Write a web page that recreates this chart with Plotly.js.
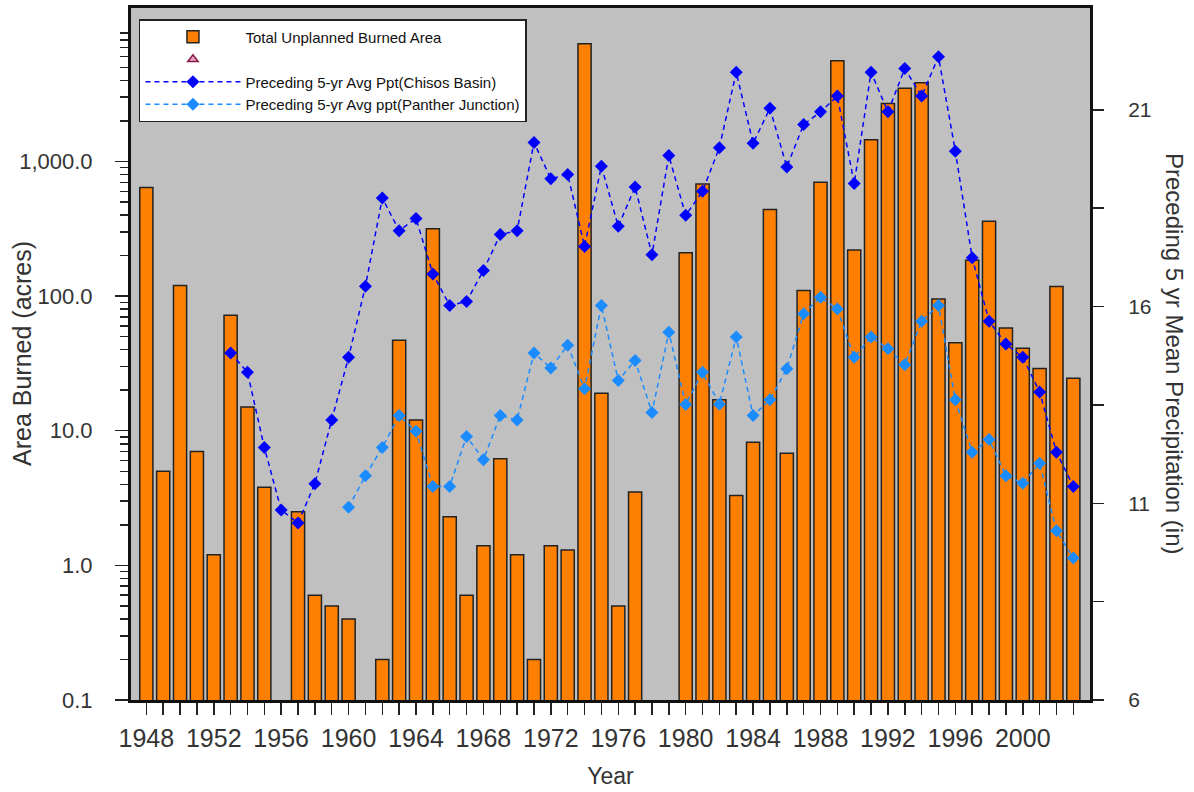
<!DOCTYPE html>
<html>
<head>
<meta charset="utf-8">
<script src="https://cdn.plot.ly/plotly-3.0.1.min.js"></script>
<style>
  html, body { margin: 0; padding: 0; background: #fff; }
  #chart { width: 1194px; height: 792px; }
</style>
</head>
<body>
<div id="chart"></div>
<script>
// years shown on the x axis
const years = [
  1948, 1949, 1950, 1951, 1952, 1953, 1954, 1955, 1956, 1957,
  1958, 1959, 1960, 1961, 1962, 1963, 1964, 1965, 1966, 1967,
  1968, 1969, 1970, 1971, 1972, 1973, 1974, 1975, 1976, 1977,
  1978, 1979, 1980, 1981, 1982, 1983, 1984, 1985, 1986, 1987,
  1988, 1989, 1990, 1991, 1992, 1993, 1994, 1995, 1996, 1997,
  1998, 1999, 2000, 2001, 2002, 2003
];

// total unplanned burned area (acres), null = no fire
const burnedArea = [
  640, 5.0, 120, 7.0, 1.2, 72, 15, 3.8, null, 2.5,
  0.6, 0.5, 0.4, null, 0.2, 47, 12, 316, 2.3, 0.6,
  1.4, 6.2, 1.2, 0.2, 1.4, 1.3, 7500, 19, 0.5, 3.5,
  null, null, 210, 680, 17, 3.3, 8.2, 440, 6.8, 110,
  700, 5600, 220, 1450, 2700, 3500, 3850, 95, 45, 185,
  360, 58, 41, 29, 118, 24.5
];

// preceding 5-yr average precipitation (in), Chisos Basin
const pptChisos = [
  null, null, null, null, null, 14.82, 14.33, 12.42, 10.83, 10.50,
  11.50, 13.12, 14.71, 16.52, 18.76, 17.93, 18.24, 16.83, 16.03, 16.13,
  16.92, 17.83, 17.93, 20.17, 19.25, 19.36, 17.53, 19.57, 18.04, 19.04,
  17.32, 19.84, 18.32, 18.93, 20.04, 21.96, 20.15, 21.04, 19.55, 20.63,
  20.95, 21.35, 19.13, 21.96, 20.95, 22.05, 21.35, 22.35, 19.95, 17.24,
  15.63, 15.05, 14.71, 13.83, 12.30, 11.43
];

// preceding 5-yr average precipitation (in), Panther Junction
const pptPanther = [
  null, null, null, null, null, null, null, null, null, null,
  null, null, 10.90, 11.70, 12.42, 13.23, 12.83, 11.43, 11.43, 12.70,
  12.11, 13.23, 13.12, 14.82, 14.44, 15.02, 13.91, 16.03, 14.12, 14.63,
  13.31, 15.35, 13.51, 14.33, 13.52, 15.23, 13.23, 13.63, 14.42, 15.82,
  16.24, 15.94, 14.71, 15.23, 14.93, 14.52, 15.63, 16.03, 13.63, 12.30,
  12.62, 11.70, 11.51, 12.02, 10.30, 9.61
];

// the triangle series only appears in the legend: no points are plotted
const triangleValues = years.map(() => null);

const leftTickVals = [0.1, 1, 10, 100, 1000];
const leftTickText = ['0.1', '1.0', '10.0', '100.0', '1,000.0'];
const rightTickVals = [6, 11, 16, 21];
const rightMinorVals = [8.5, 13.5, 18.5];

// minor log ticks 2..9 in each decade
const leftMinorVals = [];
for (let d = -1; d <= 4; d++) {
  for (let m = 2; m <= 9; m++) leftMinorVals.push(m * Math.pow(10, d));
}

const FONT = 'Arial, "Liberation Sans", sans-serif';
const TXT = '#333';

const traces = [
  {
    x: years, y: burnedArea,
    type: 'bar',
    name: 'Total Unplanned Burned Area',
    width: 0.78,
    marker: { color: '#ff8000', line: { color: '#222', width: 1.5 } },
  },
  {
    x: years, y: triangleValues,
    type: 'scatter', mode: 'markers',
    name: ' ',
    yaxis: 'y2',
    showlegend: true,
    marker: { symbol: 'triangle-up', size: 9, color: '#e8a6c4', line: { color: '#8a1a4a', width: 1.5 } },
  },
  {
    x: years, y: pptChisos,
    type: 'scatter', mode: 'lines+markers',
    name: 'Preceding 5-yr Avg Ppt(Chisos Basin)',
    yaxis: 'y2',
    line: { color: '#0000ff', width: 1.5, dash: '5px,4px' },
    marker: { symbol: 'diamond', size: 10, color: '#0000ff' },
  },
  {
    x: years, y: pptPanther,
    type: 'scatter', mode: 'lines+markers',
    name: 'Preceding 5-yr Avg ppt(Panther Junction)',
    yaxis: 'y2',
    line: { color: '#1a8cff', width: 1.5, dash: '5px,4px' },
    marker: { symbol: 'diamond', size: 10, color: '#1a8cff' },
  },
];

const layout = {
  width: 1194,
  height: 792,
  margin: { l: 131, r: 104, t: 8, b: 92 },
  paper_bgcolor: '#ffffff',
  plot_bgcolor: '#c0c0c0',
  font: { family: FONT, color: TXT },
  showlegend: true,
  legend: {
    x: 0.0083, y: 0.984, xanchor: 'left', yanchor: 'top',
    bgcolor: '#ffffff', bordercolor: '#222', borderwidth: 1.5,
    font: { family: FONT, size: 15, color: '#111' },
    itemwidth: 95,
    tracegroupgap: 0,
  },
  xaxis: {
    range: [1947.09, 2003.99],
    tickmode: 'linear', tick0: 1948, dtick: 4,
    ticks: 'outside', ticklen: 12, tickwidth: 1.5, tickcolor: '#222',
    minor: { dtick: 1, tick0: 1948, ticks: 'outside', ticklen: 12, tickwidth: 1.5, tickcolor: '#222' },
    tickfont: { size: 25, color: TXT },
    ticklabelstandoff: 2,
    showgrid: false, zeroline: false,
    showline: true, linecolor: '#111', linewidth: 3, mirror: true,
    title: { text: 'Year', font: { size: 23, color: TXT }, standoff: 17 },
  },
  yaxis: {
    type: 'log',
    range: [-1, 4.14],
    tickmode: 'array', tickvals: leftTickVals, ticktext: leftTickText,
    ticks: 'outside', ticklen: 13, tickwidth: 1.5, tickcolor: '#222',
    minor: { tickmode: 'array', tickvals: leftMinorVals, ticks: 'outside', ticklen: 8, tickwidth: 1.5, tickcolor: '#222' },
    tickfont: { size: 22, color: TXT },
    ticklabelstandoff: 18,
    showgrid: false, zeroline: false,
    showline: true, linecolor: '#111', linewidth: 3, mirror: true,
  },
  yaxis2: {
    overlaying: 'y', side: 'right',
    range: [6, 23.59],
    tickmode: 'array', tickvals: rightTickVals,
    ticks: 'outside', ticklen: 11, tickwidth: 1.5, tickcolor: '#222',
    minor: { tickmode: 'array', tickvals: rightMinorVals, ticks: 'outside', ticklen: 11, tickwidth: 1.5, tickcolor: '#222' },
    tickfont: { size: 21, color: TXT },
    ticklabelstandoff: 20,
    showgrid: false, zeroline: false,
    showline: true, linecolor: '#111', linewidth: 3,
  },
  annotations: [
    {
      text: 'Area Burned (acres)',
      xref: 'paper', yref: 'paper',
      x: 0, xshift: -109, y: 0.5,
      xanchor: 'center', yanchor: 'middle',
      textangle: -90,
      showarrow: false,
      font: { family: FONT, size: 25, color: TXT },
    },
    {
      text: 'Preceding 5 yr Mean Precipitation (in)',
      xref: 'paper', yref: 'paper',
      x: 1.0, xshift: 85, y: 0.5,
      xanchor: 'center', yanchor: 'middle',
      textangle: 90,
      showarrow: false,
      font: { family: FONT, size: 24, color: TXT },
    },
  ],
};

Plotly.newPlot('chart', traces, layout, { displayModeBar: false, staticPlot: true });
</script>
</body>
</html>
